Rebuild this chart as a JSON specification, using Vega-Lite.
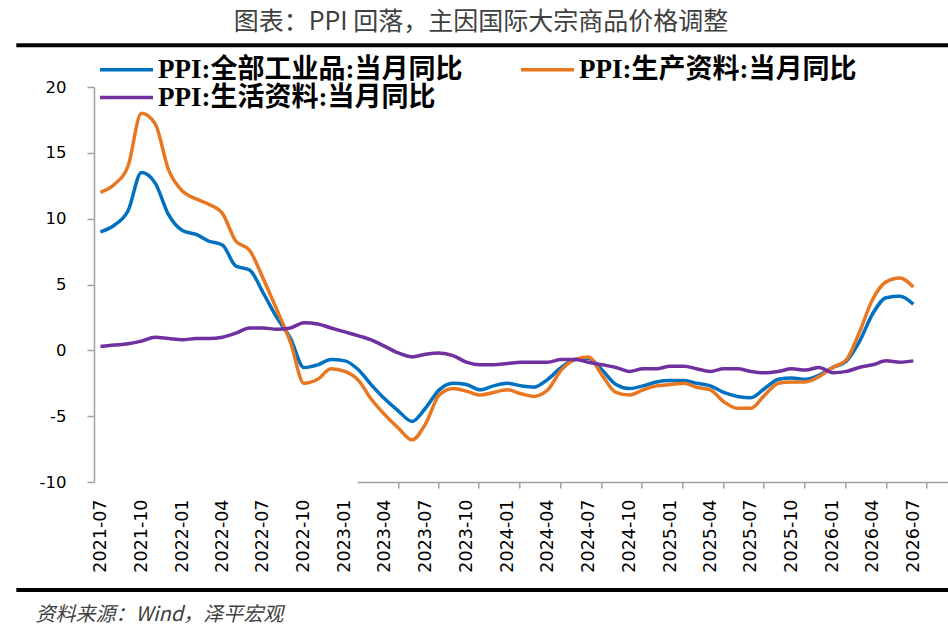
{
  "$schema": "https://vega.github.io/schema/vega-lite/v6.json",
  "description": "PPI monthly yoy, 2021-07 to 2026-07, three series",
  "autosize": "none",
  "width": 826,
  "height": 395,
  "padding": {"left": 94, "top": 87, "right": 28, "bottom": 160},
  "background": "white",
  "config": {"view": {"stroke": null}},
  "title": {
    "text": "图表：PPI 回落，主因国际大宗商品价格调整",
    "anchor": "middle",
    "frame": "group",
    "dx": -26,
    "offset": 8,
    "font": "Noto Sans CJK SC",
    "fontSize": 25,
    "fontWeight": "normal",
    "color": "#404040"
  },
  "data": {
    "values": [
      {"month": "2021-07", "PPI:全部工业品:当月同比": 9.0, "PPI:生产资料:当月同比": 12.0, "PPI:生活资料:当月同比": 0.3},
      {"month": "2021-08", "PPI:全部工业品:当月同比": 9.5, "PPI:生产资料:当月同比": 12.6, "PPI:生活资料:当月同比": 0.4},
      {"month": "2021-09", "PPI:全部工业品:当月同比": 10.6, "PPI:生产资料:当月同比": 14.0, "PPI:生活资料:当月同比": 0.5},
      {"month": "2021-10", "PPI:全部工业品:当月同比": 13.5, "PPI:生产资料:当月同比": 18.0, "PPI:生活资料:当月同比": 0.7},
      {"month": "2021-11", "PPI:全部工业品:当月同比": 12.7, "PPI:生产资料:当月同比": 17.2, "PPI:生活资料:当月同比": 1.0},
      {"month": "2021-12", "PPI:全部工业品:当月同比": 10.3, "PPI:生产资料:当月同比": 13.7, "PPI:生活资料:当月同比": 0.9},
      {"month": "2022-01", "PPI:全部工业品:当月同比": 9.1, "PPI:生产资料:当月同比": 12.1, "PPI:生活资料:当月同比": 0.8},
      {"month": "2022-02", "PPI:全部工业品:当月同比": 8.8, "PPI:生产资料:当月同比": 11.5, "PPI:生活资料:当月同比": 0.9},
      {"month": "2022-03", "PPI:全部工业品:当月同比": 8.3, "PPI:生产资料:当月同比": 11.1, "PPI:生活资料:当月同比": 0.9},
      {"month": "2022-04", "PPI:全部工业品:当月同比": 8.0, "PPI:生产资料:当月同比": 10.4, "PPI:生活资料:当月同比": 1.0},
      {"month": "2022-05", "PPI:全部工业品:当月同比": 6.4, "PPI:生产资料:当月同比": 8.3, "PPI:生活资料:当月同比": 1.3},
      {"month": "2022-06", "PPI:全部工业品:当月同比": 6.1, "PPI:生产资料:当月同比": 7.6, "PPI:生活资料:当月同比": 1.7},
      {"month": "2022-07", "PPI:全部工业品:当月同比": 4.4, "PPI:生产资料:当月同比": 5.5, "PPI:生活资料:当月同比": 1.7},
      {"month": "2022-08", "PPI:全部工业品:当月同比": 2.5, "PPI:生产资料:当月同比": 3.1, "PPI:生活资料:当月同比": 1.6},
      {"month": "2022-09", "PPI:全部工业品:当月同比": 0.9, "PPI:生产资料:当月同比": 0.6, "PPI:生活资料:当月同比": 1.7},
      {"month": "2022-10", "PPI:全部工业品:当月同比": -1.3, "PPI:生产资料:当月同比": -2.5, "PPI:生活资料:当月同比": 2.1},
      {"month": "2022-11", "PPI:全部工业品:当月同比": -1.1, "PPI:生产资料:当月同比": -2.2, "PPI:生活资料:当月同比": 2.0},
      {"month": "2022-12", "PPI:全部工业品:当月同比": -0.7, "PPI:生产资料:当月同比": -1.4, "PPI:生活资料:当月同比": 1.7},
      {"month": "2023-01", "PPI:全部工业品:当月同比": -0.8, "PPI:生产资料:当月同比": -1.6, "PPI:生活资料:当月同比": 1.4},
      {"month": "2023-02", "PPI:全部工业品:当月同比": -1.5, "PPI:生产资料:当月同比": -2.3, "PPI:生活资料:当月同比": 1.1},
      {"month": "2023-03", "PPI:全部工业品:当月同比": -2.6, "PPI:生产资料:当月同比": -3.7, "PPI:生活资料:当月同比": 0.8},
      {"month": "2023-04", "PPI:全部工业品:当月同比": -3.7, "PPI:生产资料:当月同比": -4.9, "PPI:生活资料:当月同比": 0.3},
      {"month": "2023-05", "PPI:全部工业品:当月同比": -4.6, "PPI:生产资料:当月同比": -5.9, "PPI:生活资料:当月同比": -0.2},
      {"month": "2023-06", "PPI:全部工业品:当月同比": -5.4, "PPI:生产资料:当月同比": -6.8, "PPI:生活资料:当月同比": -0.5},
      {"month": "2023-07", "PPI:全部工业品:当月同比": -4.4, "PPI:生产资料:当月同比": -5.6, "PPI:生活资料:当月同比": -0.3},
      {"month": "2023-08", "PPI:全部工业品:当月同比": -3.0, "PPI:生产资料:当月同比": -3.4, "PPI:生活资料:当月同比": -0.2},
      {"month": "2023-09", "PPI:全部工业品:当月同比": -2.5, "PPI:生产资料:当月同比": -2.9, "PPI:生活资料:当月同比": -0.4},
      {"month": "2023-10", "PPI:全部工业品:当月同比": -2.6, "PPI:生产资料:当月同比": -3.1, "PPI:生活资料:当月同比": -0.9},
      {"month": "2023-11", "PPI:全部工业品:当月同比": -3.0, "PPI:生产资料:当月同比": -3.4, "PPI:生活资料:当月同比": -1.1},
      {"month": "2023-12", "PPI:全部工业品:当月同比": -2.7, "PPI:生产资料:当月同比": -3.2, "PPI:生活资料:当月同比": -1.1},
      {"month": "2024-01", "PPI:全部工业品:当月同比": -2.5, "PPI:生产资料:当月同比": -3.0, "PPI:生活资料:当月同比": -1.0},
      {"month": "2024-02", "PPI:全部工业品:当月同比": -2.7, "PPI:生产资料:当月同比": -3.3, "PPI:生活资料:当月同比": -0.9},
      {"month": "2024-03", "PPI:全部工业品:当月同比": -2.8, "PPI:生产资料:当月同比": -3.5, "PPI:生活资料:当月同比": -0.9},
      {"month": "2024-04", "PPI:全部工业品:当月同比": -2.2, "PPI:生产资料:当月同比": -3.0, "PPI:生活资料:当月同比": -0.9},
      {"month": "2024-05", "PPI:全部工业品:当月同比": -1.3, "PPI:生产资料:当月同比": -1.5, "PPI:生活资料:当月同比": -0.7},
      {"month": "2024-06", "PPI:全部工业品:当月同比": -0.7, "PPI:生产资料:当月同比": -0.7, "PPI:生活资料:当月同比": -0.7},
      {"month": "2024-07", "PPI:全部工业品:当月同比": -0.6, "PPI:生产资料:当月同比": -0.5, "PPI:生活资料:当月同比": -0.9},
      {"month": "2024-08", "PPI:全部工业品:当月同比": -1.5, "PPI:生产资料:当月同比": -1.9, "PPI:生活资料:当月同比": -1.1},
      {"month": "2024-09", "PPI:全部工业品:当月同比": -2.6, "PPI:生产资料:当月同比": -3.2, "PPI:生活资料:当月同比": -1.3},
      {"month": "2024-10", "PPI:全部工业品:当月同比": -2.9, "PPI:生产资料:当月同比": -3.4, "PPI:生活资料:当月同比": -1.6},
      {"month": "2024-11", "PPI:全部工业品:当月同比": -2.7, "PPI:生产资料:当月同比": -3.0, "PPI:生活资料:当月同比": -1.4},
      {"month": "2024-12", "PPI:全部工业品:当月同比": -2.4, "PPI:生产资料:当月同比": -2.7, "PPI:生活资料:当月同比": -1.4},
      {"month": "2025-01", "PPI:全部工业品:当月同比": -2.3, "PPI:生产资料:当月同比": -2.6, "PPI:生活资料:当月同比": -1.2},
      {"month": "2025-02", "PPI:全部工业品:当月同比": -2.3, "PPI:生产资料:当月同比": -2.5, "PPI:生活资料:当月同比": -1.2},
      {"month": "2025-03", "PPI:全部工业品:当月同比": -2.5, "PPI:生产资料:当月同比": -2.8, "PPI:生活资料:当月同比": -1.4},
      {"month": "2025-04", "PPI:全部工业品:当月同比": -2.7, "PPI:生产资料:当月同比": -3.0, "PPI:生活资料:当月同比": -1.6},
      {"month": "2025-05", "PPI:全部工业品:当月同比": -3.2, "PPI:生产资料:当月同比": -3.9, "PPI:生活资料:当月同比": -1.4},
      {"month": "2025-06", "PPI:全部工业品:当月同比": -3.5, "PPI:生产资料:当月同比": -4.4, "PPI:生活资料:当月同比": -1.4},
      {"month": "2025-07", "PPI:全部工业品:当月同比": -3.6, "PPI:生产资料:当月同比": -4.4, "PPI:生活资料:当月同比": -1.6},
      {"month": "2025-08", "PPI:全部工业品:当月同比": -2.9, "PPI:生产资料:当月同比": -3.4, "PPI:生活资料:当月同比": -1.7},
      {"month": "2025-09", "PPI:全部工业品:当月同比": -2.2, "PPI:生产资料:当月同比": -2.5, "PPI:生活资料:当月同比": -1.6},
      {"month": "2025-10", "PPI:全部工业品:当月同比": -2.1, "PPI:生产资料:当月同比": -2.4, "PPI:生活资料:当月同比": -1.4},
      {"month": "2025-11", "PPI:全部工业品:当月同比": -2.2, "PPI:生产资料:当月同比": -2.4, "PPI:生活资料:当月同比": -1.5},
      {"month": "2025-12", "PPI:全部工业品:当月同比": -1.9, "PPI:生产资料:当月同比": -2.0, "PPI:生活资料:当月同比": -1.3},
      {"month": "2026-01", "PPI:全部工业品:当月同比": -1.3, "PPI:生产资料:当月同比": -1.3, "PPI:生活资料:当月同比": -1.7},
      {"month": "2026-02", "PPI:全部工业品:当月同比": -0.8, "PPI:生产资料:当月同比": -0.7, "PPI:生活资料:当月同比": -1.6},
      {"month": "2026-03", "PPI:全部工业品:当月同比": 0.6, "PPI:生产资料:当月同比": 1.3, "PPI:生活资料:当月同比": -1.3},
      {"month": "2026-04", "PPI:全部工业品:当月同比": 2.8, "PPI:生产资料:当月同比": 3.9, "PPI:生活资料:当月同比": -1.1},
      {"month": "2026-05", "PPI:全部工业品:当月同比": 4.0, "PPI:生产资料:当月同比": 5.2, "PPI:生活资料:当月同比": -0.8},
      {"month": "2026-06", "PPI:全部工业品:当月同比": 4.1, "PPI:生产资料:当月同比": 5.5, "PPI:生活资料:当月同比": -0.9},
      {"month": "2026-07", "PPI:全部工业品:当月同比": 3.5, "PPI:生产资料:当月同比": 4.8, "PPI:生活资料:当月同比": -0.8}
    ]
  },
  "resolve": {"axis": {"x": "independent", "y": "independent"}},
  "layer": [
    {
      "transform": [
        {"fold": ["PPI:全部工业品:当月同比", "PPI:生产资料:当月同比", "PPI:生活资料:当月同比"], "as": ["series", "value"]}
      ],
      "mark": {"type": "line", "strokeWidth": 3.5, "interpolate": "monotone"},
      "encoding": {
        "x": {
          "field": "month",
          "type": "temporal",
          "scale": {
            "type": "utc",
            "domain": [
              {"year": 2021, "month": 6, "date": 16, "hours": 12, "utc": true},
              {"year": 2026, "month": 7, "date": 16, "utc": true}
            ]
          },
          "axis": {
            "orient": "bottom",
            "values": [
              {"year": 2021, "month": 7, "date": 1, "utc": true},
              {"year": 2021, "month": 10, "date": 1, "utc": true},
              {"year": 2022, "month": 1, "date": 1, "utc": true},
              {"year": 2022, "month": 4, "date": 1, "utc": true},
              {"year": 2022, "month": 7, "date": 1, "utc": true},
              {"year": 2022, "month": 10, "date": 1, "utc": true},
              {"year": 2023, "month": 1, "date": 1, "utc": true},
              {"year": 2023, "month": 4, "date": 1, "utc": true},
              {"year": 2023, "month": 7, "date": 1, "utc": true},
              {"year": 2023, "month": 10, "date": 1, "utc": true},
              {"year": 2024, "month": 1, "date": 1, "utc": true},
              {"year": 2024, "month": 4, "date": 1, "utc": true},
              {"year": 2024, "month": 7, "date": 1, "utc": true},
              {"year": 2024, "month": 10, "date": 1, "utc": true},
              {"year": 2025, "month": 1, "date": 1, "utc": true},
              {"year": 2025, "month": 4, "date": 1, "utc": true},
              {"year": 2025, "month": 7, "date": 1, "utc": true},
              {"year": 2025, "month": 10, "date": 1, "utc": true},
              {"year": 2026, "month": 1, "date": 1, "utc": true},
              {"year": 2026, "month": 4, "date": 1, "utc": true},
              {"year": 2026, "month": 7, "date": 1, "utc": true}
            ],
            "labelExpr": "utcFormat(datum.value, '%Y-%m')",
            "labelAngle": -90,
            "labelFont": "DejaVu Sans",
            "labelFontSize": 17.5,
            "labelColor": "black",
            "labelPadding": 17,
            "labelFlush": false,
            "labelOverlap": false,
            "labelBound": false,
            "ticks": false,
            "domain": false,
            "grid": false,
            "title": "资料来源：Wind，泽平宏观",
            "titleX": -59,
            "titleY": 138,
            "titleAlign": "left",
            "titleBaseline": "alphabetic",
            "titleFont": "Noto Sans CJK SC",
            "titleFontStyle": "italic",
            "titleFontSize": 20,
            "titleFontWeight": "normal",
            "titleColor": "#404040"
          }
        },
        "y": {
          "field": "value",
          "type": "quantitative",
          "scale": {"domain": [-10, 20], "nice": false, "zero": false},
          "axis": {
            "values": [-10, -5, 0, 5, 10, 15, 20],
            "labelExpr": "datum.value < 0 ? '-' + abs(datum.value) : '' + datum.value",
            "title": null,
            "grid": false,
            "domainColor": "#a0a0a0",
            "domainWidth": 1.5,
            "tickColor": "#a0a0a0",
            "tickWidth": 1.5,
            "tickSize": 7,
            "labelFont": "DejaVu Sans",
            "labelFontSize": 16.5,
            "labelColor": "black",
            "labelPadding": 21
          }
        },
        "color": {
          "field": "series",
          "type": "nominal",
          "scale": {
            "domain": ["PPI:全部工业品:当月同比", "PPI:生产资料:当月同比", "PPI:生活资料:当月同比"],
            "range": ["#0070C0", "#E87722", "#7030A0"]
          },
          "legend": {
            "title": null,
            "orient": "none",
            "legendX": 19,
            "legendY": -31,
            "direction": "horizontal",
            "columns": 2,
            "padding": 0,
            "symbolType": "M-2.5,0H2.5",
            "symbolSize": 450,
            "symbolStrokeWidth": 3.5,
            "labelOffset": 18,
            "labelFont": "Liberation Serif, Noto Sans CJK SC",
            "labelFontSize": 27,
            "labelFontWeight": "bold",
            "labelColor": "black",
            "labelLimit": 500,
            "rowPadding": 0,
            "columnPadding": 50
          }
        }
      }
    },
    {
      "data": {"values": [{}]},
      "mark": {"type": "rule", "clip": false, "strokeWidth": 4, "color": "black"},
      "encoding": {
        "x": {"datum": {"year": 2020, "month": 12, "date": 24, "utc": true}, "type": "temporal", "axis": null},
        "x2": {"datum": {"year": 2026, "month": 9, "date": 20, "utc": true}},
        "y": {"datum": 23.17, "type": "quantitative", "axis": null}
      }
    },
    {
      "data": {"values": [{}]},
      "mark": {"type": "rule", "clip": false, "strokeWidth": 4, "color": "black"},
      "encoding": {
        "x": {
          "datum": {"year": 2020, "month": 12, "date": 24, "utc": true},
          "type": "temporal",
          "axis": {
            "orient": "bottom",
            "position": 263.3,
            "values": [
              {"year": 2021, "month": 6, "date": 16, "utc": true},
              {"year": 2021, "month": 9, "date": 16, "utc": true},
              {"year": 2021, "month": 12, "date": 16, "utc": true},
              {"year": 2022, "month": 3, "date": 16, "utc": true},
              {"year": 2022, "month": 6, "date": 16, "utc": true},
              {"year": 2022, "month": 9, "date": 16, "utc": true},
              {"year": 2022, "month": 12, "date": 16, "utc": true},
              {"year": 2023, "month": 3, "date": 16, "utc": true},
              {"year": 2023, "month": 6, "date": 16, "utc": true},
              {"year": 2023, "month": 9, "date": 16, "utc": true},
              {"year": 2023, "month": 12, "date": 16, "utc": true},
              {"year": 2024, "month": 3, "date": 16, "utc": true},
              {"year": 2024, "month": 6, "date": 16, "utc": true},
              {"year": 2024, "month": 9, "date": 16, "utc": true},
              {"year": 2024, "month": 12, "date": 16, "utc": true},
              {"year": 2025, "month": 3, "date": 16, "utc": true},
              {"year": 2025, "month": 6, "date": 16, "utc": true},
              {"year": 2025, "month": 9, "date": 16, "utc": true},
              {"year": 2025, "month": 12, "date": 16, "utc": true},
              {"year": 2026, "month": 3, "date": 16, "utc": true},
              {"year": 2026, "month": 6, "date": 16, "utc": true}
            ],
            "labels": false,
            "grid": false,
            "title": null,
            "domainColor": "#a0a0a0",
            "domainWidth": 1.5,
            "tickColor": "#a0a0a0",
            "tickWidth": 1.5,
            "tickSize": 6
          }
        },
        "x2": {"datum": {"year": 2026, "month": 9, "date": 20, "utc": true}},
        "y": {"datum": -18.2, "type": "quantitative", "axis": null}
      }
    }
  ]
}
